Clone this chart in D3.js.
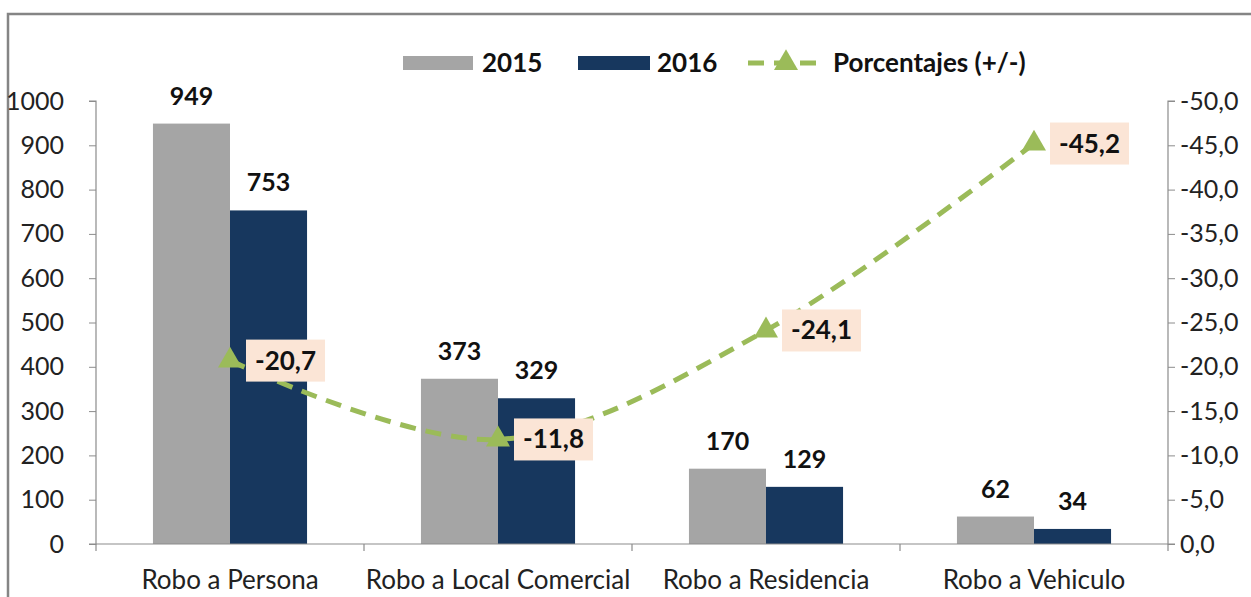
<!DOCTYPE html>
<html><head><meta charset="utf-8">
<script src="https://cdn.jsdelivr.net/npm/d3@7"></script>
<style>
body{margin:0;background:#fff;}
svg{display:block;font-family:Lato,"Open Sans",sans-serif;}
</style></head>
<body><svg id="c" width="1251" height="597"></svg>
<script>
const categories = ["Robo a Persona","Robo a Local Comercial","Robo a Residencia","Robo a Vehiculo"];
const values2015 = [949,373,170,62];
const values2016 = [753,329,129,34];
const percentages = [-20.7,-11.8,-24.1,-45.2];
const leftTicks = [0,100,200,300,400,500,600,700,800,900,1000];
const rightTicks = [0,-5,-10,-15,-20,-25,-30,-35,-40,-45,-50];
const seriesNames = ["2015","2016","Porcentajes (+/-)"];
const colors = {g2015:"#A5A5A5", g2016:"#17375E", line:"#9BBB59", box:"#FBE5D6"};

const svg = d3.select("#c");
const fmt = v => d3.format(".1f")(v).replace(".", ",").replace("−","-");

// frame
svg.append("rect").attr("x",8).attr("y",14).attr("width",1300).attr("height",700)
  .attr("fill","none").attr("stroke","#858585").attr("stroke-width",2.5);

const x0 = 96, x1 = 1168, yb = 544, yt = 101;
const x = d3.scaleBand().domain(categories).range([x0,x1]).paddingInner(0.425).paddingOuter(0.2125);
const band = d3.scaleBand().domain(categories).range([x0,x1]);
const y = d3.scaleLinear().domain([0,1000]).range([yb,yt]);
const y2 = d3.scaleLinear().domain([0,-50]).range([yb,yt]);

// axes
const gl = svg.append("g").attr("transform",`translate(${x0},0)`)
  .call(d3.axisLeft(y).tickValues(leftTicks).tickSize(7).tickPadding(25).tickFormat(d3.format("d")));
const gr = svg.append("g").attr("transform",`translate(${x1},0)`)
  .call(d3.axisRight(y2).tickValues(rightTicks).tickSize(7).tickPadding(5).tickFormat(fmt));
[gl,gr].forEach(g=>{
  g.select(".domain").attr("stroke","#8c8c8c").attr("stroke-width",1.2);
  g.selectAll(".tick line").attr("stroke","#8c8c8c");
  g.selectAll("text").attr("font-size",25).attr("fill","#222").attr("font-family","Lato");
});
gl.select(".domain").attr("d",`M-7,${yt}H0V${yb}H-7`);
gr.select(".domain").attr("d",`M7,${yt}H0V${yb}H7`);

// bars
const bw = x.bandwidth()/2;
const gb = svg.append("g");
gb.selectAll("rect.a").data(categories).join("rect").attr("class","a")
  .attr("x",d=>x(d)).attr("width",bw)
  .attr("y",(d,i)=>y(values2015[i])).attr("height",(d,i)=>yb-y(values2015[i])).attr("fill",colors.g2015);
gb.selectAll("rect.b").data(categories).join("rect").attr("class","b")
  .attr("x",d=>x(d)+bw).attr("width",bw)
  .attr("y",(d,i)=>y(values2016[i])).attr("height",(d,i)=>yb-y(values2016[i])).attr("fill",colors.g2016);

// x axis
const gx = svg.append("g").attr("transform",`translate(0,${yb})`)
  .call(d3.axisBottom(band).tickSize(0).tickPadding(27));
gx.select(".domain").attr("stroke","#8c8c8c").attr("stroke-width",1.2).attr("d",`M${x0},0H${x1}`);
gx.selectAll("text").attr("font-size",26).attr("fill","#222").attr("font-family","Lato");
svg.append("g").selectAll("line").data(d3.range(categories.length+1)).join("line")
  .attr("x1",i=>x0+i*band.step()).attr("x2",i=>x0+i*band.step())
  .attr("y1",yb).attr("y2",yb+7).attr("stroke","#8c8c8c").attr("stroke-width",1.2);

// bar labels
const gt = svg.append("g").attr("font-weight","bold").attr("font-size",25).attr("text-anchor","middle").attr("fill","#111");
gt.selectAll("text.a").data(categories).join("text").attr("class","a")
  .attr("x",d=>x(d)+bw/2).attr("y",(d,i)=>y(values2015[i])-19).text((d,i)=>values2015[i]);
gt.selectAll("text.b").data(categories).join("text").attr("class","b")
  .attr("x",d=>x(d)+bw*1.5).attr("y",(d,i)=>y(values2016[i])-19).text((d,i)=>values2016[i]);

// line
const cx = d => band(d)+band.bandwidth()/2;
const line = d3.line().x(d=>cx(d.c)).y(d=>y2(d.v)).curve(d3.curveCatmullRom.alpha(0));
const pts = categories.map((c,i)=>({c, v:percentages[i]}));
svg.append("path").datum(pts).attr("d",line).attr("fill","none")
  .attr("stroke",colors.line).attr("stroke-width",5).attr("stroke-dasharray","16,10");
const tri = d3.symbol().type(d3.symbolTriangle).size(250);
svg.append("g").selectAll("path").data(pts).join("path")
  .attr("d",tri).attr("transform",d=>`translate(${cx(d.c)},${y2(d.v)})`).attr("fill",colors.line);

// percentage labels
const gp = svg.append("g");
pts.forEach(d=>{
  const px = cx(d.c)+16, py = y2(d.v);
  const t = gp.append("text").attr("x",px+9).attr("y",py+9).attr("font-weight","bold").attr("font-size",26).attr("fill","#111").text(fmt(d.v));
  const w = t.node().getComputedTextLength();
  gp.insert("rect","text").attr("x",px).attr("y",py-21).attr("width",w+18).attr("height",42).attr("fill",colors.box);
});

// legend
const lg = svg.append("g").attr("font-weight","bold").attr("font-size",26).attr("fill","#111");
lg.append("rect").attr("x",403).attr("y",56).attr("width",70).attr("height",14).attr("fill",colors.g2015);
lg.append("text").attr("x",482).attr("y",72).text(seriesNames[0]);
lg.append("rect").attr("x",578).attr("y",56).attr("width",72).attr("height",14).attr("fill",colors.g2016);
lg.append("text").attr("x",657).attr("y",72).text(seriesNames[1]);
lg.append("line").attr("x1",748).attr("x2",820).attr("y1",63).attr("y2",63).attr("stroke",colors.line).attr("stroke-width",5).attr("stroke-dasharray","16,10");
lg.append("path").attr("d",tri).attr("transform","translate(786,63)").attr("fill",colors.line);
lg.append("text").attr("x",833).attr("y",72).text(seriesNames[2]);
</script></body></html>
